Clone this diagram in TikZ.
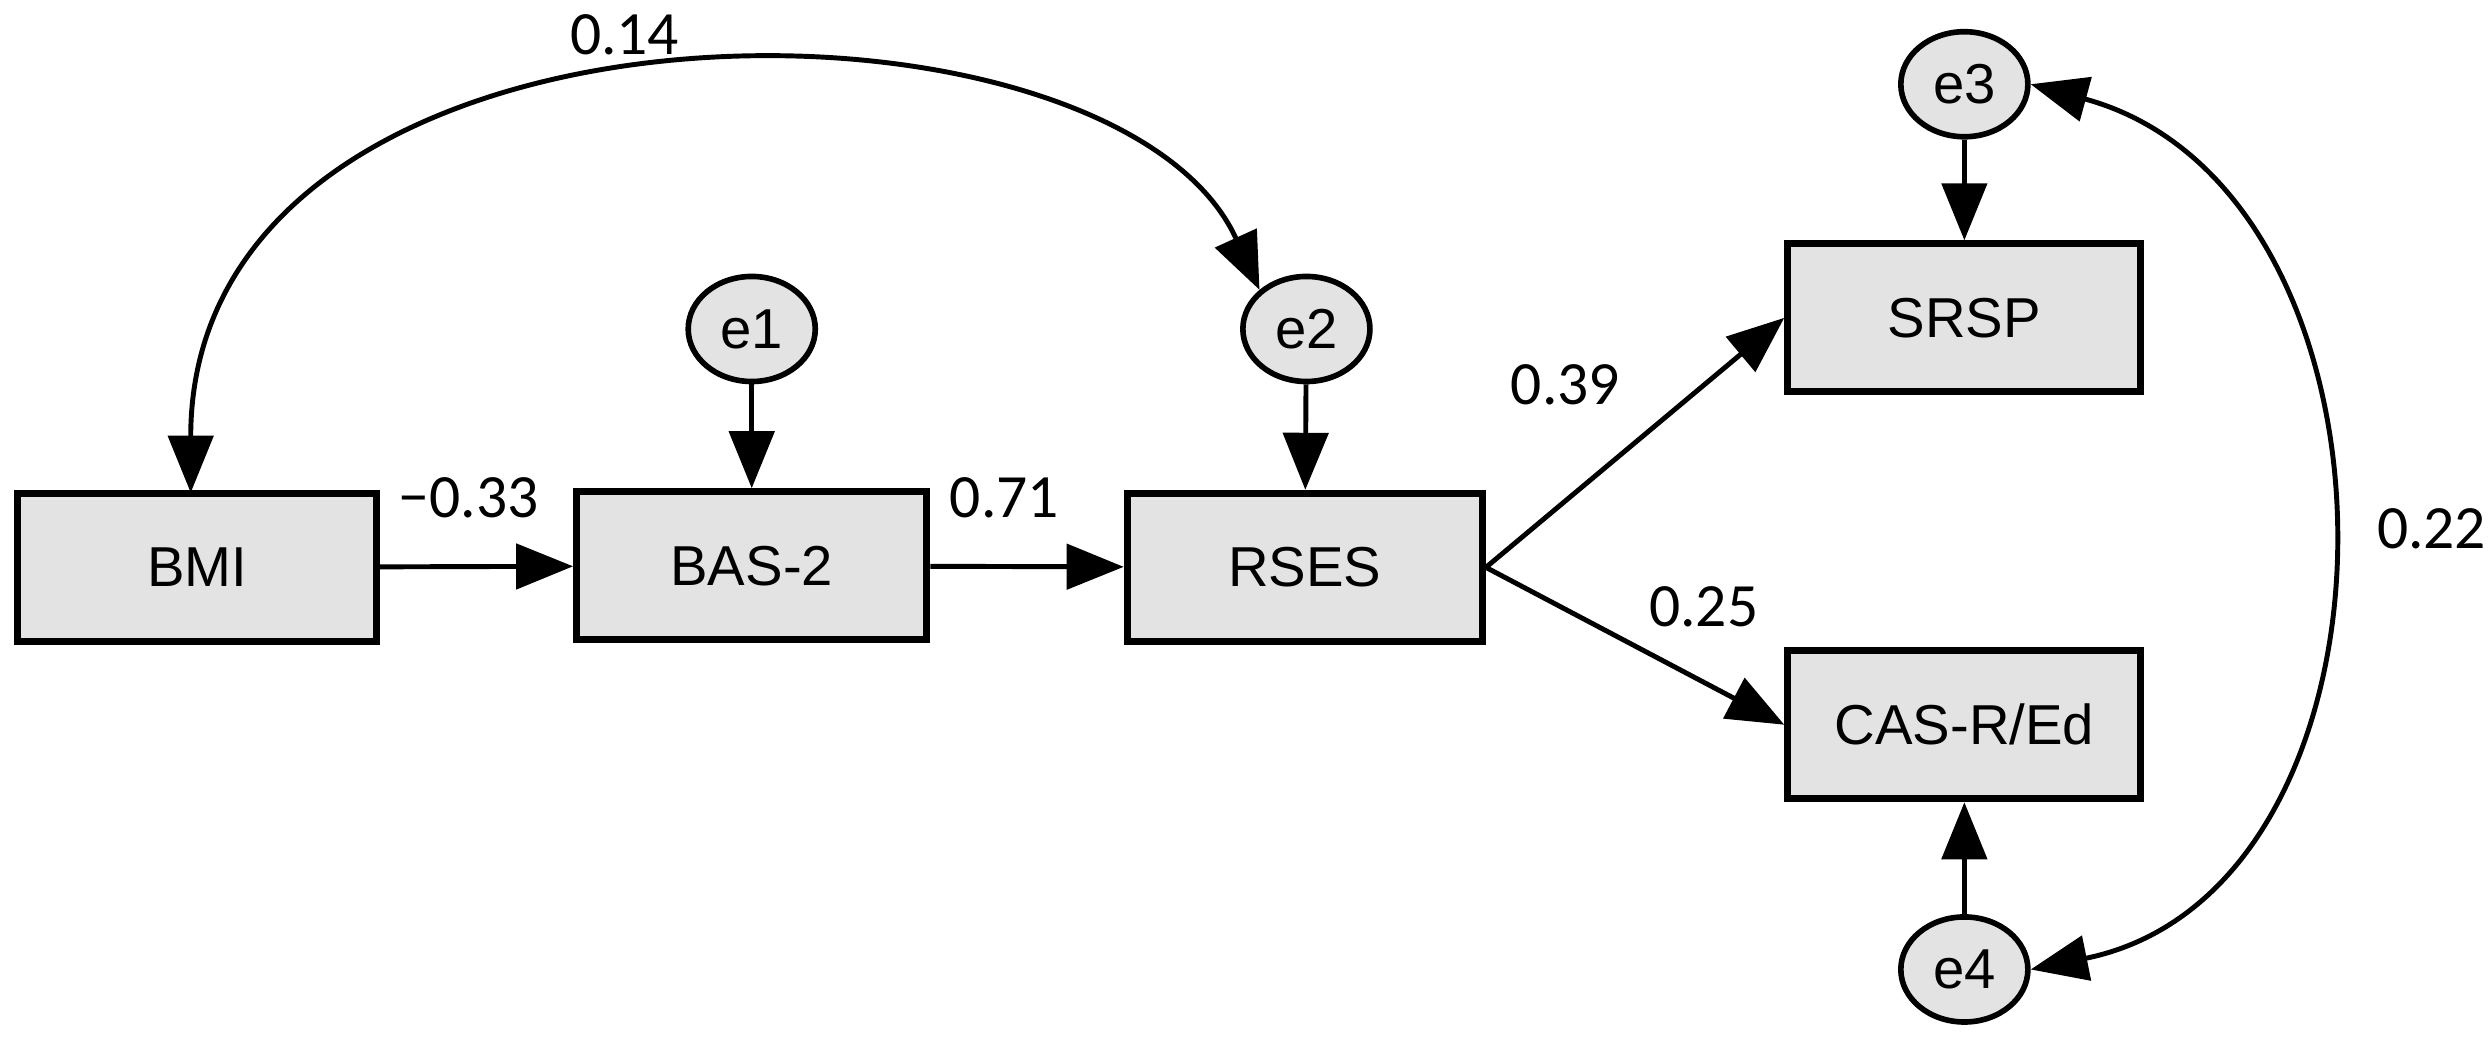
\documentclass[tikz,border=0pt]{standalone}
\usepackage{fontspec}
\setmainfont{Liberation Sans}
\newfontfamily\lblfont{Carlito}
\usetikzlibrary{arrows.meta,shapes.geometric}
\begin{document}
\begin{tikzpicture}[x=0.01589cm,y=-0.01589cm,
  box/.style={draw,line width=2pt,fill=gray!22,minimum width=3.55cm,minimum height=1.48cm,inner sep=0pt,font=\fontsize{16}{19}\selectfont},
  err/.style={draw,ellipse,line width=1.6pt,fill=gray!22,minimum width=1.27cm,minimum height=1.05cm,inner sep=0pt,font=\fontsize{16}{19}\selectfont},
  arr/.style={line width=1.4pt,-{Triangle[length=0.57cm,width=0.45cm]}},
  dbl/.style={line width=1.4pt,{Triangle[length=0.57cm,width=0.45cm]}-{Triangle[length=0.57cm,width=0.45cm]}},
  lbl/.style={font=\lblfont\fontsize{17.5}{21}\selectfont}]
\useasboundingbox (0,0) rectangle (1568,654);
\node[box,minimum width=3.58cm] (bmi) at (124,357) {BMI};
\node[box,minimum width=3.5cm] (bas) at (473,356) {BAS-2};
\node[box] (rses) at (821,357) {RSES};
\node[box,minimum width=3.53cm] (srsp) at (1236,200) {SRSP};
\node[box,minimum width=3.53cm] (cas) at (1236,456) {CAS-R/Ed};
\node[err] (e1) at (473,207) {e1};
\node[err] (e2) at (822,207) {e2};
\node[err] (e3) at (1236,53) {e3};
\node[err] (e4) at (1236,610) {e4};
\draw[arr] (bmi) -- (bas);
\draw[arr] (bas) -- (rses);
\draw[arr] (e1) -- (bas);
\draw[arr] (e2) -- (rses);
\draw[arr] (e3) -- (srsp);
\draw[arr] (e4) -- (cas);
\draw[arr] (rses.east) -- (srsp.west);
\draw[arr] (rses.east) -- (cas.west);
\draw[dbl] (120,310) .. controls (120,-20) and (700,-20) .. (e2.north west);
\draw[dbl] (e3.east) .. controls (1524,120) and (1524,560) .. (e4.east);
\node[lbl] (l1) at (393,22) {0.14};
\node[lbl] (l2) at (295,313) {{\char"2212}0.33};
\node[lbl] (l3) at (632,313) {0.71};
\node[lbl] (l4) at (985,242) {0.39};
\node[lbl] (l5) at (1072,382) {0.25};
\node[lbl] (l6) at (1530,333) {0.22};
\end{tikzpicture}
\end{document}
